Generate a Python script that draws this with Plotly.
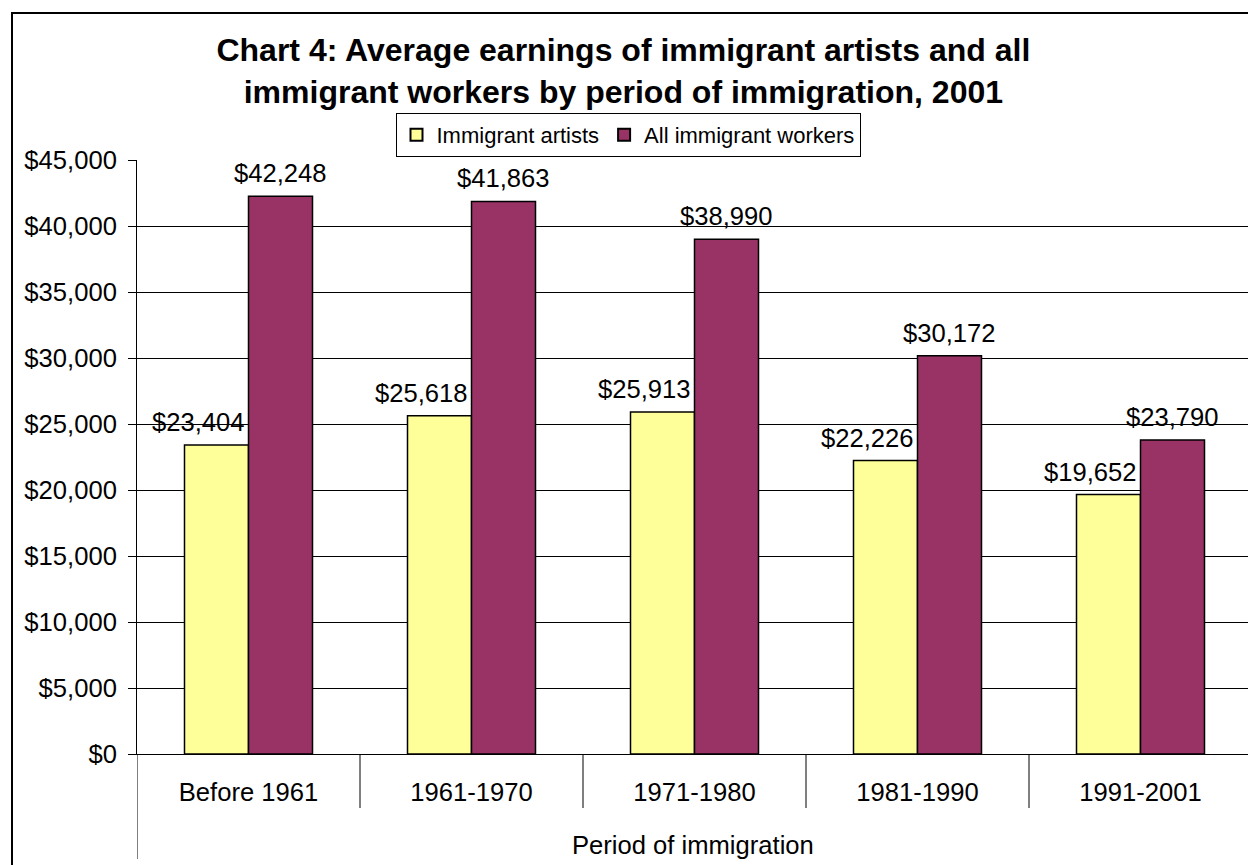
import plotly.graph_objects as go

periods = ["Before 1961", "1961-1970", "1971-1980", "1981-1990", "1991-2001"]
artists = [23404, 25618, 25913, 22226, 19652]
all_workers = [42248, 41863, 38990, 30172, 23790]
series_names = ["Immigrant artists", "All immigrant workers"]
colors = ["#FFFF99", "#993366"]

W, H = 1248, 865
ML, MR, MT, MB = 137, 0, 160, 111
plot_w = W - ML - MR
plot_h = H - MT - MB
FONT = "Liberation Sans, Arial, sans-serif"

fig = go.Figure()
for name, vals, col in zip(series_names, [artists, all_workers], colors):
    fig.add_trace(go.Bar(
        x=periods, y=vals, name=name,
        marker=dict(color=col, line=dict(color="black", width=1.5)),
        hoverinfo="skip",
    ))

# data labels
annotations = []
for vals, xshift in [(artists, -50), (all_workers, 32)]:
    for i, v in enumerate(vals):
        annotations.append(dict(
            x=i, y=v, xref="x", yref="y",
            text="$" + format(v, ","), showarrow=False,
            xanchor="center", yanchor="bottom",
            xshift=xshift, yshift=7,
            font=dict(family=FONT, size=25.6, color="black"),
        ))

annotations.append(dict(
    text="Period of immigration", xref="paper", yref="paper",
    x=0.5, y=-(845 - (H - MB)) / plot_h, showarrow=False,
    xanchor="center", yanchor="middle",
    font=dict(family=FONT, size=25.6, color="black"),
))

shapes = []
# y-axis line extension below the plot (multi-level category look)
shapes.append(dict(type="line", xref="x", yref="paper", x0=-0.5, x1=-0.5,
                   y0=0, y1=-(859 - (H - MB)) / plot_h,
                   line=dict(color="black", width=1)))
for k in range(len(periods) - 1):
    shapes.append(dict(type="line", xref="x", yref="paper", x0=k + 0.5, x1=k + 0.5,
                       y0=0, y1=-(808 - (H - MB)) / plot_h,
                       line=dict(color="black", width=1)))
# outer chart frame
shapes.append(dict(type="rect", xref="paper", yref="paper",
                   x0=(12 - ML) / plot_w, x1=1.1,
                   y0=-0.4, y1=1 + (MT - 13) / plot_h,
                   line=dict(color="black", width=2), fillcolor="rgba(0,0,0,0)"))

fig.update_layout(
    width=W, height=H,
    margin=dict(l=ML, r=MR, t=MT, b=MB, pad=0, autoexpand=False),
    paper_bgcolor="white", plot_bgcolor="white",
    font=dict(family=FONT, size=25.6, color="black"),
    title=dict(
        text="Chart 4: Average earnings of immigrant artists and all<br>immigrant workers by period of immigration, 2001",
        x=0.4995, xref="container", xanchor="center",
        y=1 - 61 / H, yref="container", yanchor="top",
        font=dict(family=FONT, size=32, color="black", weight="bold"),
    ),
    barmode="group", bargap=0.426, bargroupgap=0,
    legend=dict(
        orientation="h", xref="container", yref="container",
        x=628 / W, xanchor="center", y=1 - 113 / H, yanchor="top",
        bordercolor="black", borderwidth=1, bgcolor="white",
        font=dict(family=FONT, size=22, color="black"),
        itemsizing="constant",
    ),
    xaxis=dict(
        type="category", range=[-0.5, 4.5 - 4 / 223],
        showline=True, linecolor="black", linewidth=1,
        ticks="", showgrid=False, ticklabelstandoff=15,
        tickfont=dict(family=FONT, size=25.6, color="black"),
    ),
    yaxis=dict(
        range=[0, 45000], dtick=5000, tickprefix="$", tickformat=",d",
        showline=True, linecolor="black", linewidth=1,
        showgrid=True, gridcolor="black", gridwidth=1,
        ticks="outside", ticklen=8, tickcolor="black",
        ticklabelstandoff=6,
        tickfont=dict(family=FONT, size=25.6, color="black"),
        zeroline=False,
    ),
    annotations=annotations,
    shapes=shapes,
)

fig.write_html(
    "out.html",
    config={"displayModeBar": False},
    post_script="document.body.style.margin='0';document.body.style.overflow='hidden';",
)
